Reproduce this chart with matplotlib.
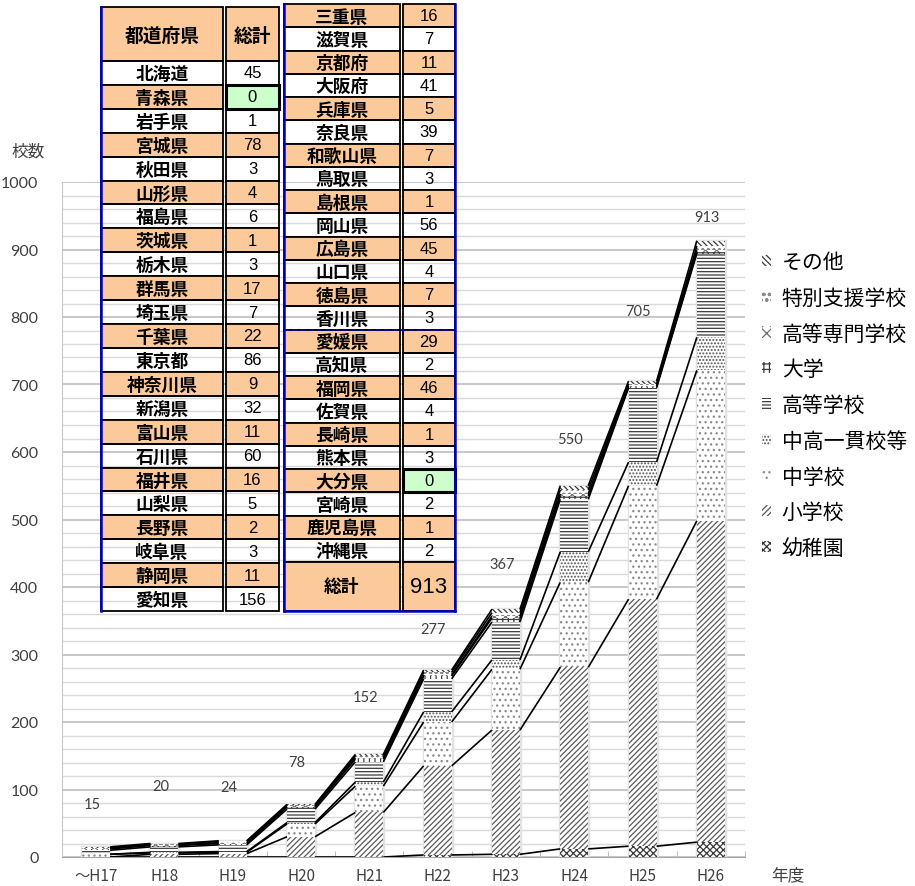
import numpy as np
import matplotlib
matplotlib.use("Agg")
import matplotlib.pyplot as plt
from matplotlib.patches import Patch, Rectangle

plt.rcParams['font.family'] = ['Noto Sans CJK JP', 'DejaVu Sans']
plt.rcParams['hatch.linewidth'] = 0.9

# 年度別の校数（学校種別）
years = ['～H17', 'H18', 'H19', 'H20', 'H21', 'H22', 'H23', 'H24', 'H25', 'H26']
kinder   = [0, 0, 0, 0, 0, 3, 4, 12, 16, 22]
elem     = [0, 4, 5, 30, 66, 132, 184, 269, 366, 476]
junior   = [4, 2, 2, 19, 39, 65, 90, 126, 168, 223]
chuko    = [0, 1, 1, 2, 6, 15, 14, 45, 35, 49]
high     = [6, 8, 10, 20, 30, 49, 56, 78, 110, 124]
univ     = [2, 2, 2, 3, 4, 4, 6, 5, 2, 3]
kosen    = [1, 1, 1, 1, 2, 2, 3, 3, 1, 2]
tokubetsu = [1, 1, 2, 2, 3, 4, 5, 6, 3, 6]
other    = [1, 1, 1, 1, 2, 3, 5, 6, 4, 8]

series_names = ['幼稚園', '小学校', '中学校', '中高一貫校等', '高等学校',
                '大学', '高等専門学校', '特別支援学校', 'その他']
series_vals = [kinder, elem, junior, chuko, high, univ, kosen, tokubetsu, other]

# 都道府県別の校数
pref_left = ['北海道', '青森県', '岩手県', '宮城県', '秋田県', '山形県', '福島県',
             '茨城県', '栃木県', '群馬県', '埼玉県', '千葉県', '東京都', '神奈川県',
             '新潟県', '富山県', '石川県', '福井県', '山梨県', '長野県', '岐阜県',
             '静岡県', '愛知県']
count_left = [45, 0, 1, 78, 3, 4, 6, 1, 3, 17, 7, 22, 86, 9, 32, 11, 60, 16, 5,
              2, 3, 11, 156]
pref_right = ['三重県', '滋賀県', '京都府', '大阪府', '兵庫県', '奈良県', '和歌山県',
              '鳥取県', '島根県', '岡山県', '広島県', '山口県', '徳島県', '香川県',
              '愛媛県', '高知県', '福岡県', '佐賀県', '長崎県', '熊本県', '大分県',
              '宮崎県', '鹿児島県', '沖縄県']
count_right = [16, 7, 11, 41, 5, 39, 7, 3, 1, 56, 45, 4, 7, 3, 29, 2, 46, 4, 1,
               3, 0, 2, 1, 2]

# 模様（下から順）
hatches = ['xxxxx', '//////', '...', '.....', '-----', '+++', 'xxx', 'ooo', '\\\\\\\\\\\\']
hatch_cols = ['#3a3a3a', '#5a5a5a', '#8a8a8a', '#505050', '#3a3a3a',
              '#404040', '#707070', '#8a8a8a', '#3a3a3a']

# 合計ラベルの高さ（データ座標）
label_y = [79, 105, 103, 141, 237, 338, 434, 619, 809, 948]

W, H = 915, 887
fig = plt.figure(figsize=(W / 100, H / 100), dpi=100)
ax = fig.add_axes([62 / W, 29 / H, 683 / W, 675 / H])

x = np.arange(len(years))
bw = 0.41
vals = np.array(series_vals, dtype=float)
cum = np.vstack([np.zeros(len(years)), np.cumsum(vals, axis=0)])
totals = cum[-1]

ax.bar(x, totals, bw, fill=False, edgecolor='#e2e2e2', linewidth=2.5, zorder=2)
for k in range(len(series_names)):
    ax.bar(x, vals[k], bw, bottom=cum[k], facecolor='white',
           edgecolor=hatch_cols[k], hatch=hatches[k], linewidth=0, zorder=3)

# 区分線
for k in range(1, len(cum)):
    for i in range(len(years) - 1):
        ax.plot([x[i] + bw / 2, x[i + 1] - bw / 2], [cum[k][i], cum[k][i + 1]],
                color='black', lw=1.2, zorder=4, solid_capstyle='butt')

for i in range(len(years)):
    ax.text(x[i] - 0.06, label_y[i], f'{int(totals[i])}', ha='center', va='center',
            fontsize=10.5, color='#404040', family=['Lato', 'DejaVu Sans'])

ax.set_xlim(-0.5, 9.5)
ax.set_ylim(0, 1000)
ax.set_yticks(np.arange(0, 1001, 100))
ax.set_yticks(np.arange(0, 1001, 20), minor=True)
ax.set_xticks(x)
ax.set_xticklabels(years)
ax.set_xticks(np.arange(-0.5, 10, 1), minor=True)
ax.tick_params(axis='y', which='both', length=0, pad=17, labelsize=11.5,
               labelcolor='#404040')
ax.tick_params(axis='x', which='major', length=0, pad=7, labelsize=11,
               labelcolor='#404040')
ax.tick_params(axis='x', which='minor', direction='in', length=4, color='#b0b0b0')
for lab in ax.get_yticklabels():
    lab.set_family(['Lato', 'DejaVu Sans'])
for lab in ax.get_xticklabels():
    lab.set_family(['Noto Sans CJK JP', 'DejaVu Sans'])
ax.grid(axis='y', which='major', color='#bdbdbd', lw=1.2)
ax.grid(axis='y', which='minor', color='#d9d9d9', lw=1.0)
ax.set_axisbelow(True)
for s in ['top', 'right']:
    ax.spines[s].set_visible(False)
ax.spines['left'].set_color('#c8c8c8')
ax.spines['bottom'].set_color('#a6a6a6')

fig.text(28 / W, 1 - 152 / H, '校数', ha='center', va='center', fontsize=12,
         color='#404040')
fig.text(788 / W, 1 - 876 / H, '年度', ha='center', va='center', fontsize=12,
         color='#404040')

handles = [Patch(facecolor='white', edgecolor=hatch_cols[k], hatch=hatches[k],
                 linewidth=0) for k in range(len(series_names))][::-1]
fig.legend(handles, series_names[::-1], loc='upper left',
           bbox_to_anchor=(762 / W, 1 - 252 / H), frameon=False, fontsize=15,
           handlelength=0.45, handleheight=0.45, handletextpad=0.5,
           labelspacing=0.66, borderpad=0, borderaxespad=0)

# 都道府県の表
ov = fig.add_axes([0, 0, 1, 1])
ov.set_xlim(0, W)
ov.set_ylim(H, 0)
ov.axis('off')

orange = '#fcc99a'
green = '#ccffcc'
name_font = dict(family=['Noto Sans CJK JP', 'DejaVu Sans'], weight='bold',
                 fontsize=12.8, color='black')
num_font = dict(family=['Liberation Sans', 'DejaVu Sans'], fontsize=12,
                color='black')


def cell(x0, y0, w, h, fc, lw=1.3):
    ov.add_patch(Rectangle((x0, y0), w, h, facecolor=fc, edgecolor='black',
                           lw=lw))


def draw_rows(names, counts, x0, xn, xv, xr, y0, rh, start_orange):
    for i, (nm, c) in enumerate(zip(names, counts)):
        yy = y0 + i * rh
        fc = orange if (i % 2 == 1) != start_orange else 'none'
        cell(x0, yy, xn - x0, rh, fc)
        vfc = green if c == 0 else fc
        cell(xv, yy, xr - xv, rh, vfc, lw=2.2 if c == 0 else 1.3)
        ov.text((x0 + xn) / 2, yy + rh / 2 + 1, nm, ha='center', va='center',
                **name_font)
        ov.text((xv + xr) / 2, yy + rh / 2, str(c), ha='center', va='center',
                **num_font)


# 左の表
cell(101, 8, 122, 54, orange)
cell(226, 8, 53, 54, orange)
ov.text(162, 36, '都道府県', ha='center', va='center', **{**name_font, 'fontsize': 13.5})
ov.text(252, 36, '総計', ha='center', va='center', **{**name_font, 'fontsize': 13.5})
draw_rows(pref_left, count_left, 101, 223, 226, 279, 62, 550 / 23, False)
ov.plot([101, 101], [8, 612], color='#0000c0', lw=1.8)

# 右の表
rh = 558 / 24
draw_rows(pref_right, count_right, 284, 400, 403, 455, 5, rh, True)
ytot = 5 + 24 * rh
cell(284, ytot, 116, 612 - ytot, orange)
cell(403, ytot, 52, 612 - ytot, orange)
ov.text(342, (ytot + 612) / 2, '総計', ha='center', va='center', **name_font)
ov.text(429, (ytot + 612) / 2, str(sum(count_left) + sum(count_right)),
        ha='center', va='center', **{**num_font, 'fontsize': 16})
ov.plot([284, 284], [5, 612], color='#0000c0', lw=1.8)
ov.plot([455, 455], [5, 612], color='#0000c0', lw=1.8)
ov.plot([284, 455], [612, 612], color='#0000c0', lw=1.8)
ov.plot([284, 455], [5 + 14 * rh, 5 + 14 * rh], color='#0000c0', lw=1.2,
        ls=(0, (3, 2)))

fig.savefig('out.png', dpi=100)
